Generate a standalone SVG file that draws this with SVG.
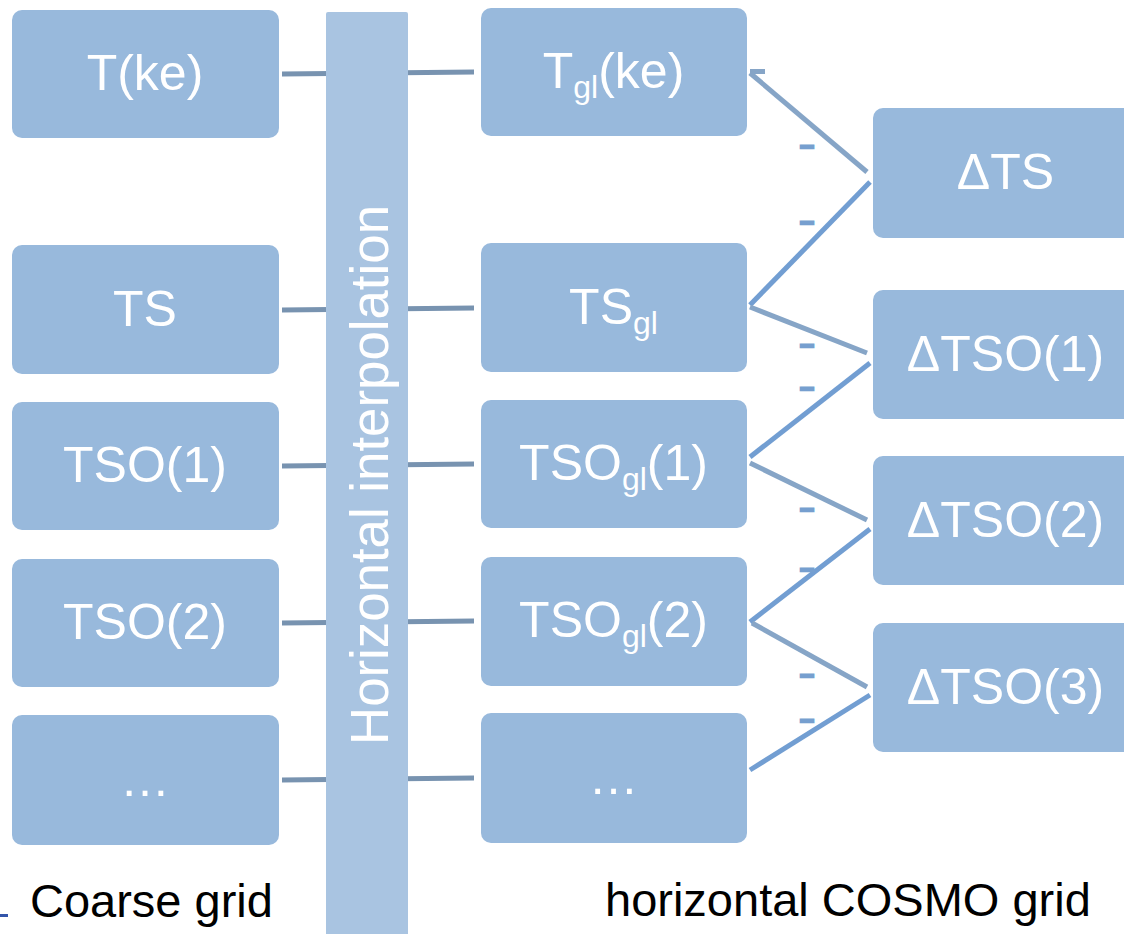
<svg xmlns="http://www.w3.org/2000/svg" width="1124" height="934" viewBox="0 0 1124 934">
<style>
.box{fill:#98b9dc;}
.lbl{font-family:"Liberation Sans",Arial,sans-serif;font-size:50px;fill:#ffffff;text-anchor:middle;}
.sub{font-size:32px;}
.h{stroke:#7893b0;stroke-width:5;fill:none;}
.dn{stroke:#86a5c7;stroke-width:5;fill:none;}
.up{stroke:#729ed2;stroke-width:5;fill:none;}
.minus{font-family:"Liberation Sans",Arial,sans-serif;font-size:30px;fill:#769fcf;stroke:#769fcf;stroke-width:2.5;text-anchor:middle;}
.cap{font-family:"Liberation Sans",Arial,sans-serif;font-size:47px;fill:#000000;}
</style>
<rect width="1124" height="934" fill="#ffffff"/>
<g id="connectors">
  <line class="h" x1="282" y1="74" x2="474" y2="72"/>
  <line class="h" x1="282" y1="310" x2="474" y2="308"/>
  <line class="h" x1="282" y1="466" x2="474" y2="464"/>
  <line class="h" x1="282" y1="623" x2="474" y2="621"/>
  <line class="h" x1="282" y1="780" x2="474" y2="778"/>
  <line class="dn" x1="750" y1="71.5" x2="765" y2="71.5"/>
  <line class="dn" x1="750" y1="73" x2="867" y2="172"/>
  <line class="up" x1="870" y1="182" x2="750" y2="305"/>
  <line class="dn" x1="750" y1="307" x2="867" y2="353"/>
  <line class="up" x1="870" y1="363" x2="750" y2="457"/>
  <line class="dn" x1="750" y1="463" x2="867" y2="520"/>
  <line class="up" x1="870" y1="529" x2="750" y2="622"/>
  <line class="dn" x1="752" y1="623" x2="867" y2="687"/>
  <line class="up" x1="870" y1="695" x2="750" y2="770"/>
  <text class="minus" transform="translate(807,154.7) scale(1.5,1)">-</text>
  <text class="minus" transform="translate(807,230.7) scale(1.5,1)">-</text>
  <text class="minus" transform="translate(807,353.7) scale(1.5,1)">-</text>
  <text class="minus" transform="translate(807,396.7) scale(1.5,1)">-</text>
  <text class="minus" transform="translate(807,517.7) scale(1.5,1)">-</text>
  <text class="minus" transform="translate(807,577.7) scale(1.5,1)">-</text>
  <text class="minus" transform="translate(807,683.7) scale(1.5,1)">-</text>
  <text class="minus" transform="translate(807,729.2) scale(1.5,1)">-</text>
</g>
<g id="interp">
  <rect x="326" y="12" width="82" height="930" rx="2" fill="#a9c4e1"/>
  <text transform="translate(388,475) rotate(-90)" font-family="Liberation Sans, Arial, sans-serif" font-size="53" fill="#ffffff" text-anchor="middle" textLength="540" lengthAdjust="spacingAndGlyphs">Horizontal interpolation</text>
</g>
<g id="left-Tke"><rect class="box" x="12" y="10" width="267" height="128" rx="10"/><text class="lbl" x="145" y="90">T(ke)</text></g>
<g id="left-TS"><rect class="box" x="12" y="245" width="267" height="129" rx="10"/><text class="lbl" x="145" y="326">TS</text></g>
<g id="left-TSO1"><rect class="box" x="12" y="402" width="267" height="128" rx="10"/><text class="lbl" x="145" y="482">TSO(1)</text></g>
<g id="left-TSO2"><rect class="box" x="12" y="559" width="267" height="128" rx="10"/><text class="lbl" x="145" y="639">TSO(2)</text></g>
<g id="left-more"><rect class="box" x="12" y="715" width="267" height="130" rx="10"/><text class="lbl" x="145" y="796">…</text></g>
<g id="mid-Tgl"><rect class="box" x="481" y="8" width="266" height="128" rx="10"/><text class="lbl" x="613.5" y="88">T<tspan class="sub" dy="10">gl</tspan><tspan dy="-10">(ke)</tspan></text></g>
<g id="mid-TSgl"><rect class="box" x="481" y="243" width="266" height="129" rx="10"/><text class="lbl" x="613.5" y="324">TS<tspan class="sub" dy="10">gl</tspan></text></g>
<g id="mid-TSOgl1"><rect class="box" x="481" y="400" width="266" height="128" rx="10"/><text class="lbl" x="613.5" y="480">TSO<tspan class="sub" dy="10">gl</tspan><tspan dy="-10">(1)</tspan></text></g>
<g id="mid-TSOgl2"><rect class="box" x="481" y="557" width="266" height="129" rx="10"/><text class="lbl" x="613.5" y="637">TSO<tspan class="sub" dy="10">gl</tspan><tspan dy="-10">(2)</tspan></text></g>
<g id="mid-more"><rect class="box" x="481" y="713" width="266" height="130" rx="10"/><text class="lbl" x="613.5" y="794">…</text></g>
<g id="right-dTS"><rect class="box" x="873" y="108" width="265" height="130" rx="10"/><text class="lbl" x="1005.5" y="189">ΔTS</text></g>
<g id="right-dTSO1"><rect class="box" x="873" y="290" width="265" height="129" rx="10"/><text class="lbl" x="1005.5" y="371">ΔTSO(1)</text></g>
<g id="right-dTSO2"><rect class="box" x="873" y="456" width="265" height="129" rx="10"/><text class="lbl" x="1005.5" y="537">ΔTSO(2)</text></g>
<g id="right-dTSO3"><rect class="box" x="873" y="623" width="265" height="129" rx="10"/><text class="lbl" x="1005.5" y="704">ΔTSO(3)</text></g>
<line x1="0" y1="915.5" x2="8" y2="915.5" stroke="#3355aa" stroke-width="3"/>
<text class="cap" x="30" y="917">Coarse grid</text>
<text class="cap" x="605" y="916">horizontal COSMO grid</text>
</svg>
